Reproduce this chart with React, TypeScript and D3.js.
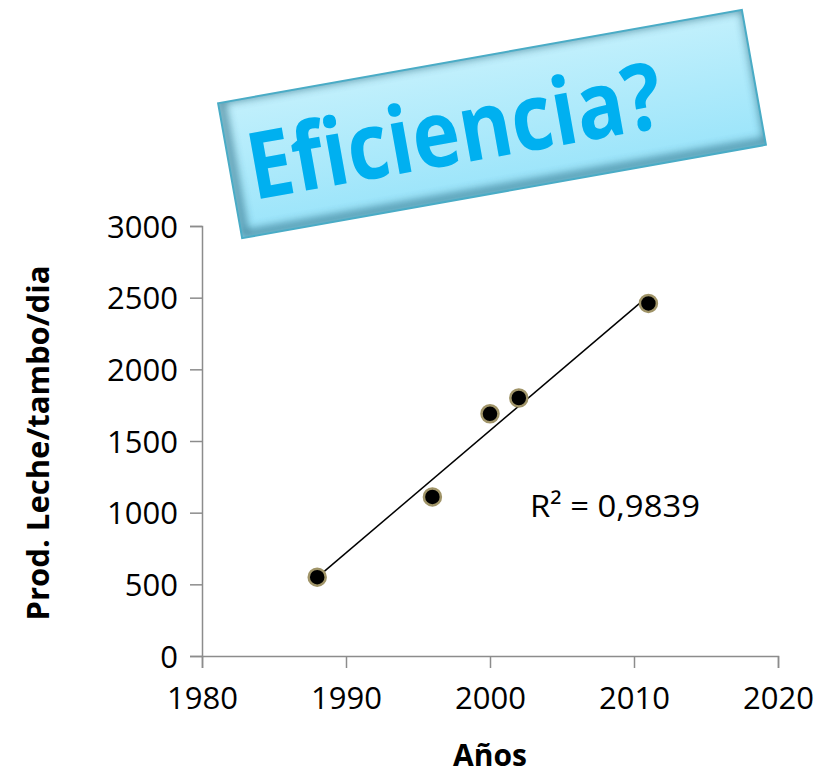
import React, { useEffect, useRef } from 'react';
import * as d3 from 'd3';

const years = [1988, 1996, 2000, 2002, 2011];
const milk = [550, 1110, 1690, 1800, 2460];
const xTicks = [1980, 1990, 2000, 2010, 2020];
const yTicks = [0, 500, 1000, 1500, 2000, 2500, 3000];
const r2Label = 'R² = 0,9839';
const titleText = 'Eficiencia?';

const FONT = "'Open Sans', sans-serif";

const App: React.FC = () => {
  const axesRef = useRef<SVGGElement | null>(null);

  const x = d3.scaleLinear().domain([1980, 2020]).range([202, 778]);
  const y = d3.scaleLinear().domain([0, 3000]).range([656, 226]);

  // least squares trend line
  const mx = d3.mean(years) as number;
  const my = d3.mean(milk) as number;
  let sxy = 0;
  let sxx = 0;
  years.forEach((yr, i) => {
    sxy += (yr - mx) * (milk[i] - my);
    sxx += (yr - mx) * (yr - mx);
  });
  const slope = sxy / sxx;
  const fit = (t: number) => my + slope * (t - mx);
  const x0 = d3.min(years) as number;
  const x1 = d3.max(years) as number;
  const trend = d3.line<number>().x((t) => x(t)).y((t) => y(fit(t)))([x0, x1]);

  useEffect(() => {
    if (!axesRef.current) return;
    const g = d3.select(axesRef.current);
    g.selectAll('*').remove();

    const ax = g.append('g').attr('transform', `translate(0,${y(0)})`)
      .call(d3.axisBottom(x).tickValues(xTicks).tickFormat(d3.format('d')).tickSizeOuter(0).tickSize(12).tickPadding(12));
    const ay = g.append('g').attr('transform', `translate(${x(1980)},0)`)
      .call(d3.axisLeft(y).tickValues(yTicks).tickFormat(d3.format('d')).tickSizeOuter(0).tickSize(12).tickPadding(12));

    [ax, ay].forEach((a) => {
      a.select('.domain').attr('stroke', '#8c8c8c').attr('stroke-width', 1.5);
      a.selectAll('.tick line').attr('stroke', '#8c8c8c').attr('stroke-width', 1.5);
      a.selectAll('.tick text')
        .attr('fill', '#000')
        .style('font-family', FONT)
        .style('font-size', '31px');
    });
    ax.selectAll('.tick text').attr('dy', '0.95em');
    ay.selectAll('.tick text').attr('dy', '0.36em');
  }, []);

  const bw = 532;
  const bh = 137;

  return (
    <svg width={823} height={774} style={{ display: 'block', position: 'absolute', left: 0, top: 0 }}>
      <defs>
        <linearGradient id="boxFill" x1="0" y1="0" x2="0" y2="1">
          <stop offset="0" stopColor="#c2f0fc" />
          <stop offset="1" stopColor="#9ae4fa" />
        </linearGradient>
        <clipPath id="boxClip">
          <rect x={-bw / 2} y={-bh / 2} width={bw} height={bh} />
        </clipPath>
        <filter id="blur" x="-10%" y="-20%" width="120%" height="140%">
          <feGaussianBlur stdDeviation="4" />
        </filter>
      </defs>

      {/* title box */}
      <g transform="translate(492,124) rotate(-10.1)">
        <rect x={-bw / 2} y={-bh / 2} width={bw} height={bh} fill="url(#boxFill)" />
        <g clipPath="url(#boxClip)">
          <rect
            x={-bw / 2 + 3}
            y={-bh / 2 - 3}
            width={bw}
            height={bh}
            fill="none"
            stroke="#2f6f86"
            strokeWidth={8}
            filter="url(#blur)"
            opacity={0.75}
          />
        </g>
        <rect x={-bw / 2} y={-bh / 2} width={bw} height={bh} fill="none" stroke="#4aacc6" strokeWidth={2} />
        <text
          x={-38}
          y={33}
          textAnchor="middle"
          fill="#00b0f0"
          style={{ fontFamily: FONT, fontWeight: 700, fontSize: 93 }}
          textLength={420}
          lengthAdjust="spacingAndGlyphs"
        >
          {titleText}
        </text>
      </g>

      <g ref={axesRef} />

      <path d={trend || ''} fill="none" stroke="#000" strokeWidth={1.5} />

      {years.map((yr, i) => (
        <circle key={yr} cx={x(yr)} cy={y(milk[i])} r={8.5} fill="#000" stroke="#a09468" strokeWidth={2.5} />
      ))}

      <text
        x={530}
        y={517}
        style={{ fontFamily: FONT, fontSize: 31 }}
        fill="#000"
        textLength={170}
        lengthAdjust="spacingAndGlyphs"
      >
        {r2Label}
      </text>

      <text
        transform={`translate(49,${(y(0) + y(3000)) / 2 + 2}) rotate(-90)`}
        textAnchor="middle"
        style={{ fontFamily: FONT, fontSize: 30, fontWeight: 700 }}
        fill="#000"
        textLength={355}
        lengthAdjust="spacingAndGlyphs"
      >
        Prod. Leche/tambo/dia
      </text>
      <text
        x={x(2000)}
        y={766}
        textAnchor="middle"
        style={{ fontFamily: FONT, fontSize: 30, fontWeight: 700 }}
        fill="#000"
      >
        Años
      </text>
    </svg>
  );
};

export default App;
